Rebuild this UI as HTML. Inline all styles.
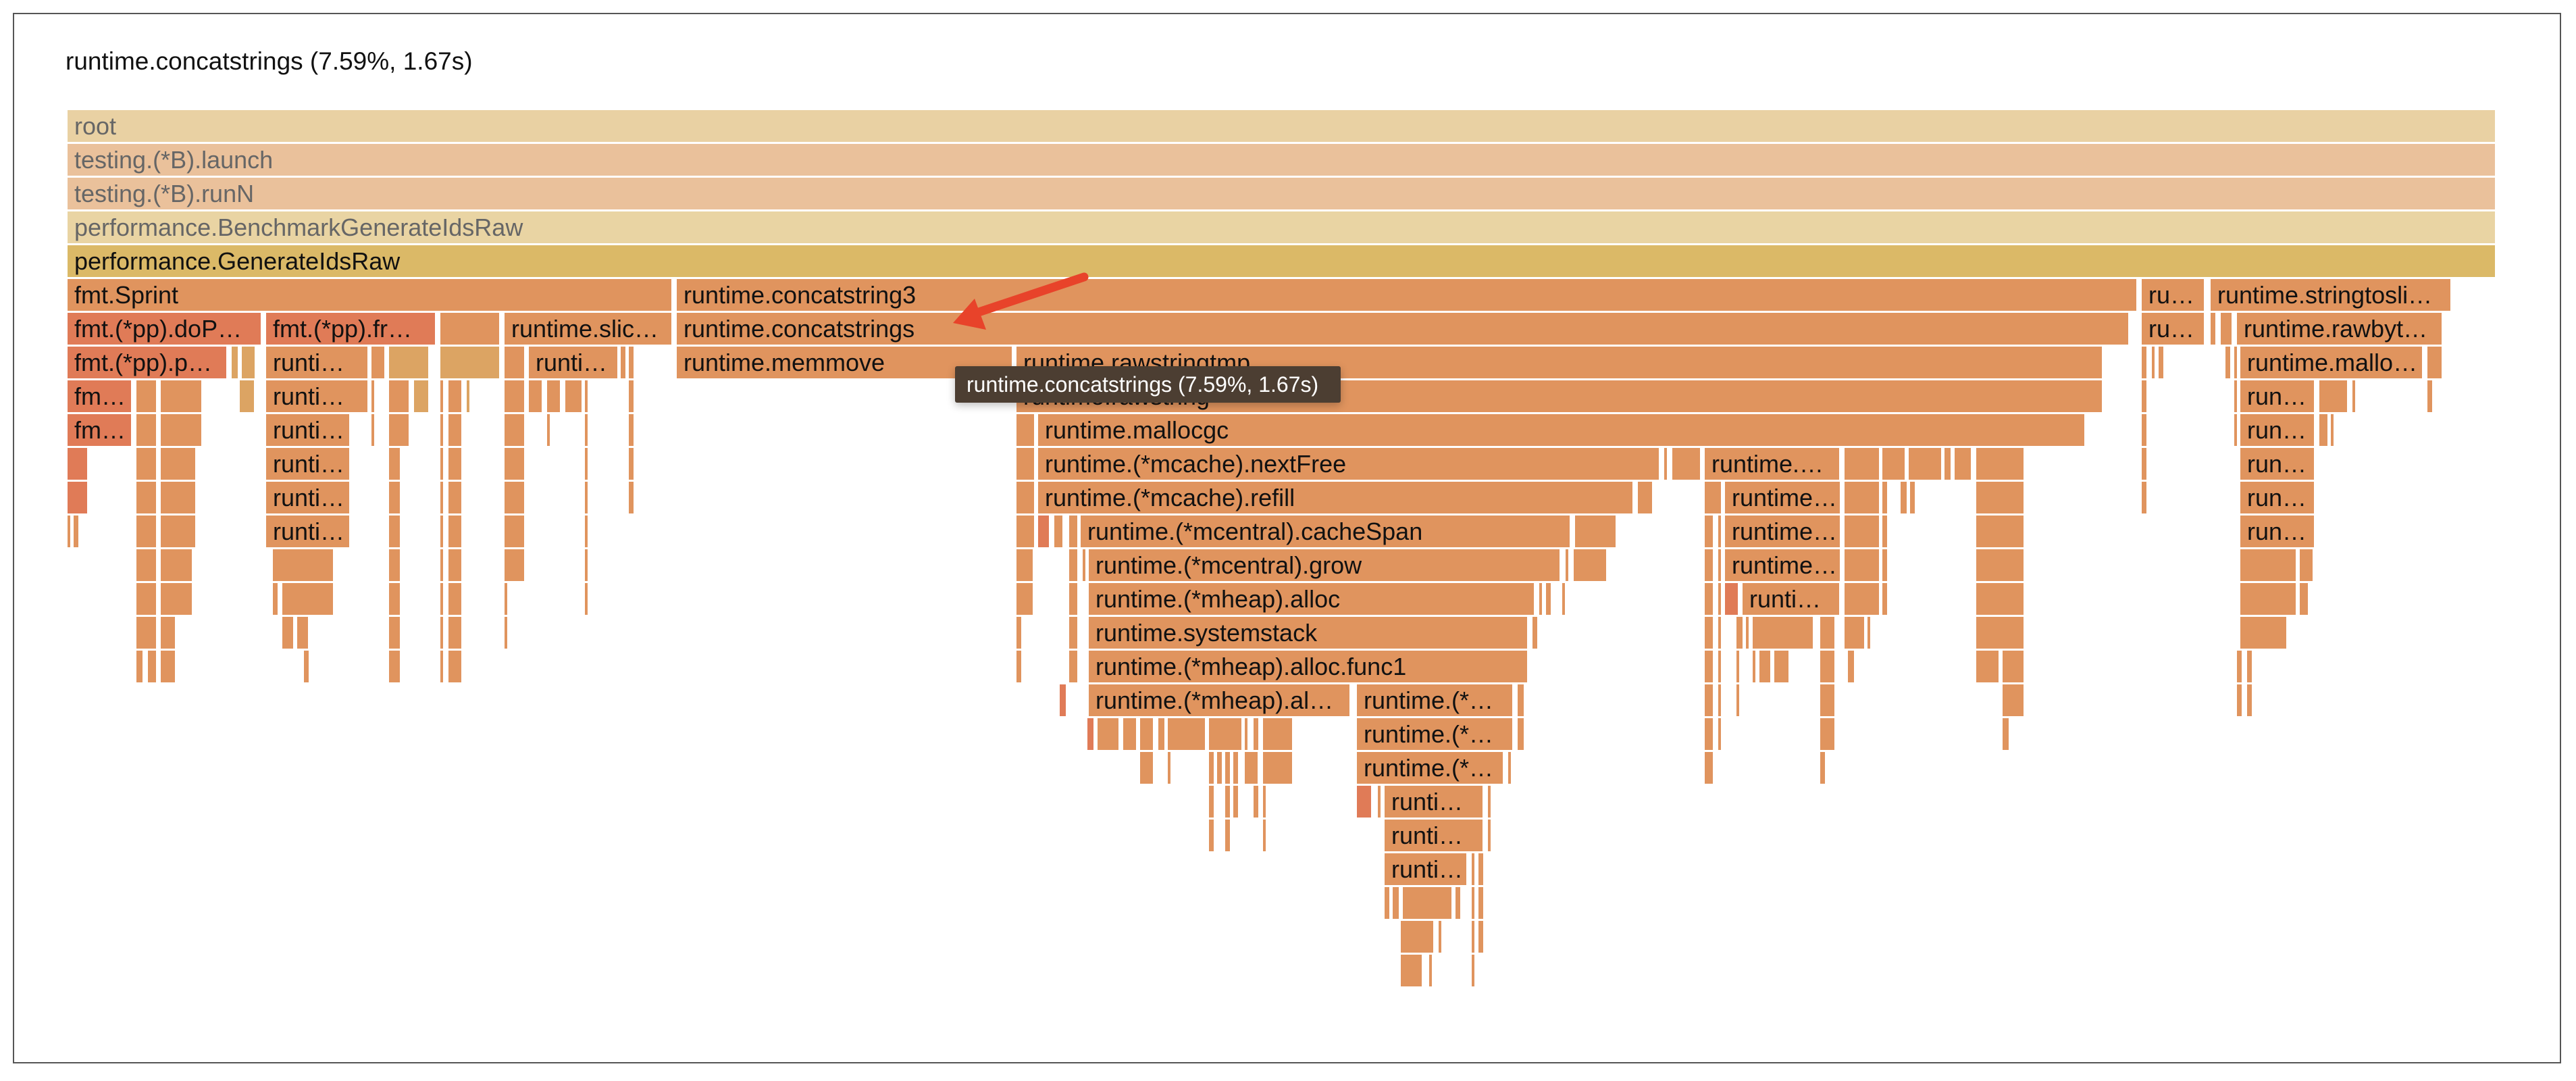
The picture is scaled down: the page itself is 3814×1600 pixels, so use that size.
<!DOCTYPE html>
<html><head><meta charset="utf-8">
<style>
html,body{margin:0;padding:0;background:#fff;}
body{width:3814px;height:1600px;position:relative;overflow:hidden;font-family:"Liberation Sans",sans-serif;}
#frame{position:absolute;left:19px;top:19px;width:3773px;height:1555px;border:2px solid #555;box-sizing:border-box;}
#title{position:absolute;left:97px;top:70px;font-size:37px;color:#111;}
.b{position:absolute;height:47px;box-sizing:border-box;overflow:hidden;white-space:nowrap;font-size:36px;line-height:47px;padding-left:10px;color:#111;}
#tip{position:absolute;left:1414px;top:542px;width:571px;height:54px;background:#4c3e32;color:#fff;font-size:32px;line-height:54px;padding-left:17px;box-sizing:border-box;border-radius:3px;box-shadow:0 4px 12px rgba(0,0,0,0.25);white-space:nowrap;overflow:hidden;}
</style></head><body>
<div id="frame"></div>
<div id="title">runtime.concatstrings (7.59%, 1.67s)</div>
<div id="fg"></div>
<div id="tip">runtime.concatstrings (7.59%, 1.67s)</div>
<svg style="position:absolute;left:0;top:0" width="3814" height="1600">
<line x1="1605" y1="410" x2="1440" y2="465" stroke="#e8432a" stroke-width="13" stroke-linecap="round"/>
<polygon points="1411,478 1443,442 1460,488" fill="#e8432a"/>
</svg>
<script>
var S=2.432;
var O='#e0945e',R='#e07b57',T='#dca463';
var rows=[
[[41,1520,'root','#e9d1a3','#666']],
[[41,1520,'testing.(*B).launch','#eac19b','#666']],
[[41,1520,'testing.(*B).runN','#eac19b','#666']],
[[41,1520,'performance.BenchmarkGenerateIdsRaw','#e9d4a3','#666']],
[[41,1520,'performance.GenerateIdsRaw','#dbb967']],
[[41,410,'fmt.Sprint'],[412,1302,'runtime.concatstring3'],[1304,1343,'ru…'],[1346,1493,'runtime.stringtosli…']],
[[41,160,'fmt.(*pp).doP…',R],[162,266,'fmt.(*pp).fr…',R],[268,305],[307,410,'runtime.slic…'],[412,1297,'runtime.concatstrings'],[1304,1343,'ru…'],[1346,1350],[1352,1360],[1362,1488,'runtime.rawbyt…']],
[[41,139,'fmt.(*pp).p…',R],[141,146,'',T],[147,156,'',T],[162,225,'runti…'],[226,235],[237,262,'',T],[268,305,'',T],[307,320],[322,377,'runti…'],[378,382],[383,387],[412,617,'runtime.memmove'],[619,1281,'runtime.rawstringtmp'],[1304,1308],[1310,1313],[1314,1318],[1355,1359],[1360,1363],[1364,1476,'runtime.mallo…'],[1478,1488]],
[[41,81,'fm…',R],[83,96],[98,124],[146,156,'',T],[162,225,'runti…'],[226,229],[237,250],[252,262,'',T],[268,271],[273,282],[284,287,'',T],[307,320],[322,331],[333,342],[344,355],[356,359],[383,387],[619,1281,'runtime.rawstring'],[1304,1308],[1360,1363],[1364,1410,'run…'],[1412,1430],[1432,1435],[1478,1482]],
[[41,81,'fm…',R],[83,96],[98,124],[162,214,'runti…'],[226,229],[237,250],[268,271],[273,282],[307,320],[333,336],[356,359],[383,387],[619,631],[632,1270,'runtime.mallocgc'],[1304,1308],[1360,1363],[1364,1410,'run…'],[1412,1418],[1419,1422]],
[[41,54,'',R],[83,96],[98,120],[162,214,'runti…'],[237,245],[268,271],[273,282],[307,320],[356,359],[383,387],[619,631],[632,1011,'runtime.(*mcache).nextFree'],[1013,1016],[1018,1036],[1038,1121,'runtime.…'],[1123,1145],[1146,1161],[1162,1183],[1184,1189],[1190,1201],[1203,1233],[1304,1308],[1364,1410,'run…']],
[[41,54,'',R],[83,96],[98,120],[162,214,'runti…'],[237,245],[268,271],[273,282],[307,320],[356,359],[383,387],[619,631],[632,995,'runtime.(*mcache).refill'],[997,1007],[1038,1049],[1050,1121,'runtime…'],[1123,1145],[1146,1150],[1157,1162],[1163,1167],[1203,1233],[1304,1308],[1364,1410,'run…']],
[[41,44],[45,49],[83,96],[98,120],[162,214,'runti…'],[237,245],[268,271],[273,282],[307,320],[356,359],[619,631],[632,640,'',R],[642,648],[651,657],[658,957,'runtime.(*mcentral).cacheSpan'],[959,985],[1038,1044],[1046,1049],[1050,1121,'runtime…'],[1123,1145],[1146,1150],[1203,1233],[1364,1410,'run…']],
[[83,96],[98,118],[166,204],[237,245],[268,271],[273,282],[307,320],[356,359],[619,630],[651,657],[659,662],[663,951,'runtime.(*mcentral).grow'],[953,956],[958,979],[1038,1044],[1046,1049],[1050,1121,'runtime…'],[1123,1145],[1146,1150],[1203,1233],[1364,1399],[1400,1409]],
[[83,96],[98,118],[166,170],[172,204],[237,245],[268,271],[273,282],[307,310],[356,359],[619,630],[651,657],[663,935,'runtime.(*mheap).alloc'],[937,940],[941,945],[951,954],[1038,1044],[1046,1049],[1050,1059,'',R],[1061,1121,'runti…'],[1123,1145],[1146,1150],[1203,1233],[1364,1399],[1400,1406]],
[[83,96],[98,108],[172,180],[181,189],[237,245],[268,271],[273,282],[307,310],[619,623],[651,657],[663,931,'runtime.systemstack'],[933,937],[1038,1044],[1046,1049],[1057,1062],[1063,1066],[1067,1105],[1108,1118],[1123,1136],[1137,1140],[1203,1233],[1364,1393]],
[[83,88],[90,96],[98,108],[185,189],[237,245],[268,271],[273,282],[619,623],[651,657],[663,931,'runtime.(*mheap).alloc.func1'],[1038,1044],[1046,1049],[1057,1060],[1067,1070],[1071,1079],[1080,1090],[1108,1118],[1125,1130],[1203,1218],[1219,1233],[1362,1366],[1368,1372]],
[[645,650,'',R],[663,823,'runtime.(*mheap).al…'],[826,922,'runtime.(*…'],[924,929],[1038,1044],[1046,1049],[1057,1060],[1108,1118],[1219,1233],[1362,1366],[1368,1372]],
[[662,667,'',R],[668,682],[684,693],[694,703],[705,710],[711,735],[736,757],[758,761],[763,767],[769,788],[826,922,'runtime.(*…'],[924,929],[1038,1044],[1046,1049],[1108,1118],[1219,1224]],
[[694,703],[711,714],[736,740],[741,745],[746,750],[751,755],[758,767],[769,788],[826,916,'runtime.(*…'],[918,921],[1038,1044],[1108,1112]],
[[736,740],[746,750],[751,755],[763,767],[769,772],[826,836,'',R],[839,842],[843,904,'runti…'],[906,909]],
[[736,740],[746,750],[769,772],[843,904,'runti…'],[906,909]],
[[843,894,'runti…'],[896,899],[900,904]],
[[843,847],[848,853],[854,885],[886,890],[896,899],[900,904]],
[[853,874],[876,879],[896,899],[900,904]],
[[853,867],[870,873],[896,899]]
];
var h='';
rows.forEach(function(r,i){
 var top=163+50*i;
 r.forEach(function(b){
  var l=Math.round(b[0]*S), w=Math.round((b[1]-b[0])*S)-3;
  if(w<2)w=2;
  var c=b[3]||O, tc=b[4]||'#111', t=b[2]||'';
  var pad=w<30?'padding-left:0;':'';
  h+='<div class="b" style="left:'+l+'px;top:'+top+'px;width:'+w+'px;background:'+c+';color:'+tc+';'+pad+'">'+t+'</div>';
 });
});
document.getElementById('fg').innerHTML=h;
</script>
</body></html>
